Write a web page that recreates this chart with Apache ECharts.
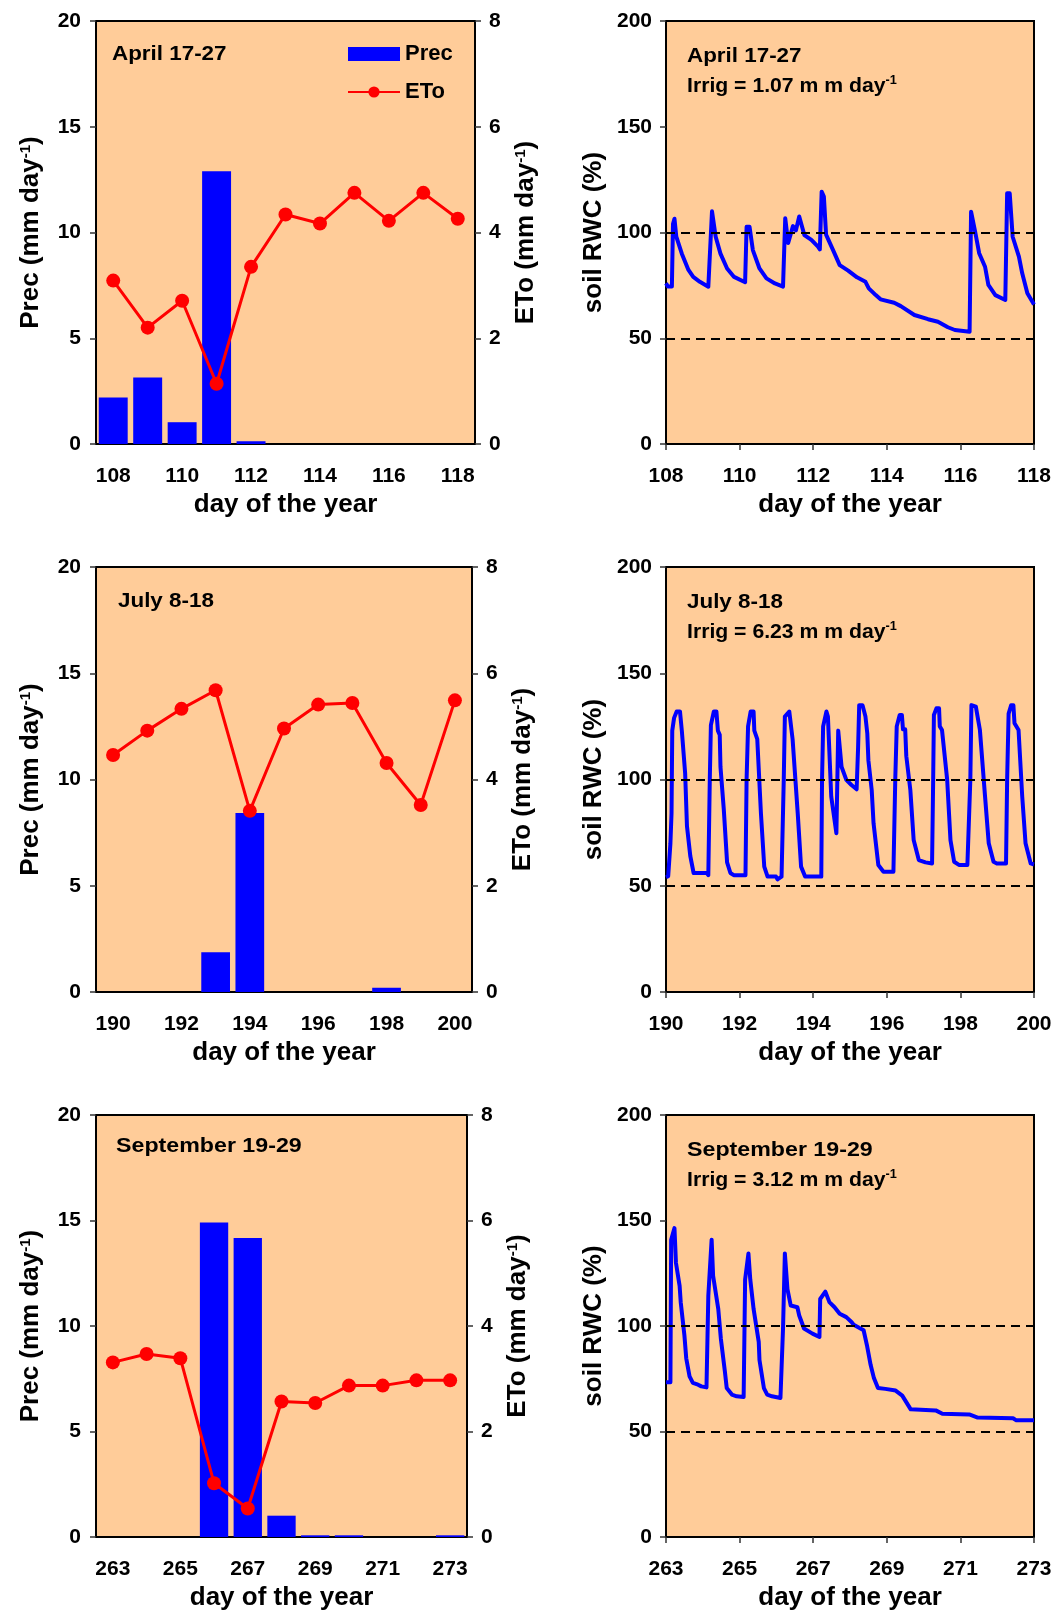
<!DOCTYPE html>
<html>
<head>
<meta charset="utf-8">
<title>Prec, ETo and soil RWC</title>
<script src="https://cdn.jsdelivr.net/npm/echarts@6.0.0/dist/echarts.min.js"></script>
<style>
  html, body { margin: 0; padding: 0; background: #fff; }
  #chart { width: 1058px; height: 1618px; }
</style>
</head>
<body>
<div id="chart"></div>
<script>
var FONT = '"Liberation Sans", Arial, sans-serif';
var BG = '#FFCC99';

// April 17-27
var daysApr = ['108', '109', '110', '111', '112', '113', '114', '115', '116', '117', '118'];
var precApr = [2.2, 3.15, 1.03, 12.9, 0.13, 0, 0, 0, 0, 0, 0];
var etoApr = [3.09, 2.2, 2.71, 1.14, 3.35, 4.34, 4.17, 4.75, 4.22, 4.75, 4.26];
var rwcApr = [
    [108.00, 76], [108.05, 74.5], [108.16, 74.5], [108.19, 104], [108.23, 106.5], [108.28, 98],
    [108.43, 90], [108.61, 82.3], [108.74, 79], [108.92, 76.7], [109.15, 74.4], [109.25, 110],
    [109.35, 98], [109.48, 90], [109.66, 83], [109.85, 79], [110.15, 76.5], [110.19, 102.7],
    [110.27, 102.7], [110.36, 91.7], [110.54, 83], [110.73, 78.3], [110.96, 75.9], [111.18, 74.4],
    [111.24, 106.7], [111.32, 95], [111.45, 103], [111.53, 101], [111.62, 107.6], [111.76, 98.8],
    [111.95, 96.5], [112.13, 93.3], [112.18, 92], [112.23, 119.3], [112.29, 117], [112.35, 99],
    [112.54, 91.7], [112.72, 84.6], [112.95, 82], [113.19, 78.8], [113.42, 76.7], [113.51, 73.6],
    [113.70, 70.4], [113.83, 68.4], [114.20, 66.8], [114.38, 65.2], [114.75, 61], [115.12, 59],
    [115.39, 57.8], [115.66, 55.2], [115.85, 53.9], [116.25, 53.1], [116.29, 109.8], [116.40, 100.4],
    [116.51, 90.2], [116.67, 83.8], [116.76, 75.2], [116.95, 70.4], [117.22, 68.1], [117.27, 118.5],
    [117.34, 118.5], [117.42, 98], [117.59, 88.6], [117.68, 80.7], [117.82, 71.3], [118.00, 66]
];

// July 8-18
var daysJul = ['190', '191', '192', '193', '194', '195', '196', '197', '198', '199', '200'];
var precJul = [0, 0, 0, 1.87, 8.42, 0, 0, 0, 0.2, 0, 0];
var etoJul = [4.46, 4.92, 5.33, 5.68, 3.41, 4.96, 5.41, 5.44, 4.31, 3.52, 5.49];
var rwcJul = [
    [190.00, 54], [190.06, 54.5], [190.12, 70], [190.15, 84], [190.17, 123], [190.22, 129],
    [190.29, 132], [190.38, 132], [190.43, 123], [190.52, 103], [190.57, 78], [190.66, 64],
    [190.75, 56], [191.11, 56], [191.15, 55], [191.19, 100], [191.22, 125.6], [191.30, 132],
    [191.37, 132], [191.41, 123], [191.46, 121], [191.48, 106], [191.57, 86], [191.66, 61],
    [191.75, 56], [191.84, 55], [192.16, 55], [192.19, 100], [192.23, 125], [192.30, 132],
    [192.38, 132], [192.40, 123], [192.48, 119], [192.58, 84], [192.67, 59], [192.76, 54.3],
    [192.99, 54.3], [193.03, 53], [193.14, 54.3], [193.20, 100], [193.23, 129.6], [193.35, 132],
    [193.44, 119], [193.58, 84], [193.67, 59], [193.78, 54.3], [194.22, 54.3], [194.24, 100],
    [194.27, 125], [194.36, 132], [194.40, 129.6], [194.49, 92], [194.63, 74.7], [194.66, 74.7],
    [194.68, 123], [194.77, 106], [194.90, 99.8], [195.04, 97.4], [195.18, 95.4], [195.22, 115],
    [195.25, 135], [195.34, 135], [195.42, 129.6], [195.47, 121.7], [195.50, 109], [195.59, 95],
    [195.64, 79.4], [195.77, 59.8], [195.91, 56.6], [196.18, 56.6], [196.23, 100], [196.27, 125],
    [196.35, 130.4], [196.41, 130.4], [196.44, 123.6], [196.50, 123.6], [196.53, 111], [196.64, 95],
    [196.73, 71.5], [196.87, 62.1], [197.05, 61], [197.23, 60.5], [197.26, 100], [197.28, 130.4],
    [197.35, 133.5], [197.42, 133.5], [197.44, 125], [197.50, 123.3], [197.64, 100], [197.73, 71.5],
    [197.83, 61.3], [197.96, 59.8], [198.19, 59.8], [198.27, 100], [198.30, 135], [198.42, 134.3],
    [198.53, 123.3], [198.67, 92], [198.77, 70], [198.90, 61.3], [198.99, 60.5], [199.24, 60.5],
    [199.27, 100], [199.31, 131], [199.38, 135], [199.44, 135], [199.47, 126.5], [199.58, 123.3],
    [199.68, 92], [199.77, 70], [199.91, 60.5], [200.00, 60]
];

// September 19-29
var daysSep = ['263', '264', '265', '266', '267', '268', '269', '270', '271', '272', '273'];
var precSep = [0, 0, 0, 14.91, 14.17, 1.01, 0.08, 0.08, 0, 0, 0.08];
var etoSep = [3.31, 3.47, 3.39, 1.02, 0.54, 2.57, 2.54, 2.87, 2.87, 2.97, 2.97];
var rwcSep = [
    [263.00, 73.4], [263.12, 73.4], [263.14, 140.9], [263.23, 146.4], [263.27, 130], [263.37, 119],
    [263.40, 111.3], [263.50, 95.6], [263.55, 84.7], [263.64, 76.1], [263.73, 73], [263.87, 72.2],
    [263.96, 71.4], [264.10, 70.9], [264.15, 114.4], [264.24, 140.9], [264.28, 123.8], [264.42, 108.1],
    [264.49, 94.1], [264.60, 78.4], [264.65, 70.6], [264.79, 67.5], [264.92, 66.7], [265.11, 66.3],
    [265.15, 122], [265.24, 134.4], [265.29, 122], [265.38, 108.1], [265.52, 92.5], [265.54, 83.9],
    [265.66, 70.6], [265.75, 67.5], [265.88, 66.7], [266.11, 65.9], [266.18, 98.8], [266.23, 134.4],
    [266.30, 117.5], [266.39, 109.7], [266.57, 108.9], [266.62, 105], [266.75, 98.8], [266.80, 98],
    [266.98, 96.4], [267.17, 94.8], [267.19, 112.8], [267.33, 116.3], [267.44, 111.3], [267.58, 108.9],
    [267.72, 105.8], [267.90, 104.2], [268.04, 101.9], [268.10, 100.6], [268.37, 98], [268.46, 90.9],
    [268.56, 81.6], [268.65, 75.3], [268.76, 70.6], [268.96, 70.2], [269.24, 69.4], [269.42, 67],
    [269.65, 60.5], [270.33, 60], [270.51, 58.4], [271.24, 58.1], [271.47, 56.6], [272.43, 56.3],
    [272.52, 55.3], [273.00, 55.3]
];

var precRange = [0, 20, 5];
var etoRange = [0, 8, 2];
var rwcRange = [0, 200, 50];
var rwcLimits = [50, 100];

var rows = [
    { top: 21, height: 423, leftW: 379, days: daysApr, prec: precApr, eto: etoApr, rwc: rwcApr, dayMin: 108, title: 'April 17-27', irrig: '1.07', tx: 112, ty: 33, sx: 1.12 },
    { top: 567, height: 425, leftW: 376, days: daysJul, prec: precJul, eto: etoJul, rwc: rwcJul, dayMin: 190, title: 'July 8-18', irrig: '6.23', tx: 118, ty: 34, sx: 1.12 },
    { top: 1115, height: 422, leftW: 371, days: daysSep, prec: precSep, eto: etoSep, rwc: rwcSep, dayMin: 263, title: 'September 19-29', irrig: '3.12', tx: 116, ty: 31, sx: 1.16 }
];

var axisLine = { show: true, onZero: false, lineStyle: { color: '#000', width: 2 } };
var axisTick = { show: true, inside: false, length: 6, lineStyle: { color: '#333', width: 1.5 } };
var labelStyle = { color: '#000', fontFamily: FONT, fontWeight: 'bold', fontSize: 21 };
var nameRich = {
    a: { color: '#000', fontFamily: FONT, fontWeight: 'bold', fontSize: 26 },
    s: { color: '#000', fontFamily: FONT, fontWeight: 'bold', fontSize: 15, verticalAlign: 'top' }
};
var nameStyle = { color: '#000', fontFamily: FONT, fontWeight: 'bold', fontSize: 26, rich: nameRich };

var grids = [], xAxes = [], yAxes = [], series = [], graphics = [];

rows.forEach(function (r, i) {
    // left panel: Prec bars + ETo line
    grids.push({ left: 96, top: r.top, width: r.leftW, height: r.height, show: true,
        backgroundColor: BG, borderColor: '#000', borderWidth: 2 });
    // right panel: soil RWC
    grids.push({ left: 666, top: r.top, width: 368, height: r.height, show: true,
        backgroundColor: BG, borderColor: '#000', borderWidth: 2 });

    var gL = i * 2, gR = i * 2 + 1;

    xAxes.push({
        type: 'category', gridIndex: gL, data: r.days, boundaryGap: true,
        axisLine: axisLine, axisTick: { show: false },
        axisLabel: Object.assign({ interval: 1, margin: 22 }, labelStyle),
        name: 'day of the year', nameLocation: 'middle', nameGap: 48, nameTextStyle: nameStyle
    });
    xAxes.push({
        type: 'value', gridIndex: gR, min: r.dayMin, max: r.dayMin + 10, interval: 2,
        axisLine: axisLine, axisTick: axisTick, splitLine: { show: false },
        axisLabel: Object.assign({ margin: 22 }, labelStyle),
        name: 'day of the year', nameLocation: 'middle', nameGap: 48, nameTextStyle: nameStyle
    });

    var yPrec = yAxes.length;
    yAxes.push({
        type: 'value', gridIndex: gL, position: 'left', min: precRange[0], max: precRange[1], interval: precRange[2],
        axisLine: axisLine, axisTick: axisTick, splitLine: { show: false },
        axisLabel: Object.assign({ margin: 15 }, labelStyle),
        name: '{a|Prec (mm day}{s|-1}{a|)}', nameLocation: 'middle', nameGap: 52, nameTextStyle: nameStyle
    });
    var yEto = yAxes.length;
    yAxes.push({
        type: 'value', gridIndex: gL, position: 'right', min: etoRange[0], max: etoRange[1], interval: etoRange[2],
        axisLine: axisLine, axisTick: axisTick, splitLine: { show: false },
        axisLabel: Object.assign({ margin: 14 }, labelStyle),
        name: '{a|ETo (mm day}{s|-1}{a|)}', nameLocation: 'middle', nameGap: 38, nameTextStyle: nameStyle
    });
    var yRwc = yAxes.length;
    yAxes.push({
        type: 'value', gridIndex: gR, min: rwcRange[0], max: rwcRange[1], interval: rwcRange[2],
        axisLine: axisLine, axisTick: axisTick, splitLine: { show: false },
        axisLabel: Object.assign({ margin: 14 }, labelStyle),
        name: 'soil RWC (%)', nameLocation: 'middle', nameGap: 59, nameTextStyle: nameStyle
    });

    series.push({
        name: 'Prec', type: 'bar', xAxisIndex: gL, yAxisIndex: yPrec, data: r.prec,
        barCategoryGap: '16%', itemStyle: { color: '#0000FF' }, z: 2
    });
    series.push({
        name: 'ETo', type: 'line', xAxisIndex: gL, yAxisIndex: yEto, data: r.eto,
        symbol: 'circle', symbolSize: 14, itemStyle: { color: '#FF0000' },
        lineStyle: { color: '#FF0000', width: 3 }, z: 3
    });
    series.push({
        name: 'RWC', type: 'line', xAxisIndex: gR, yAxisIndex: yRwc, data: r.rwc,
        showSymbol: false, symbol: 'none', lineStyle: { color: '#0000FF', width: 4, join: 'round' },
        markLine: {
            silent: true, symbol: ['none', 'none'], label: { show: false },
            lineStyle: { color: '#000', width: 2, type: [9, 6] },
            data: rwcLimits.map(function (v) { return { yAxis: v }; })
        },
        z: 3
    });

    // panel annotations
    var txt = { fill: '#000', font: 'bold 20px ' + FONT, verticalAlign: 'middle' };
    graphics.push({ type: 'text', x: r.tx, y: r.top + r.ty, scaleX: r.sx,
        style: Object.assign({ text: r.title }, txt) });
    graphics.push({ type: 'text', x: 687, y: r.top + 35, scaleX: r.sx,
        style: Object.assign({ text: r.title }, txt) });
    graphics.push({ type: 'text', x: 687, y: r.top + 65, scaleX: 1.06,
        style: {
            text: '{a|Irrig = ' + r.irrig + ' m m day}{s|-1}', verticalAlign: 'middle',
            rich: {
                a: { fill: '#000', font: 'bold 20px ' + FONT, lineHeight: 22 },
                s: { fill: '#000', font: 'bold 12px ' + FONT, verticalAlign: 'top' }
            }
        } });
});

var myChart = echarts.init(document.getElementById('chart'));
myChart.setOption({
    animation: false,
    backgroundColor: '#fff',
    textStyle: { fontFamily: FONT },
    legend: {
        data: [{ name: 'Prec', icon: 'rect' }, { name: 'ETo' }],
        orient: 'vertical', left: 342, top: 38, itemWidth: 52, itemHeight: 14, itemGap: 16,
        selectedMode: false,
        textStyle: { color: '#000', fontFamily: FONT, fontWeight: 'bold', fontSize: 22 }
    },
    grid: grids,
    xAxis: xAxes,
    yAxis: yAxes,
    series: series,
    graphic: graphics
});
</script>
</body>
</html>
